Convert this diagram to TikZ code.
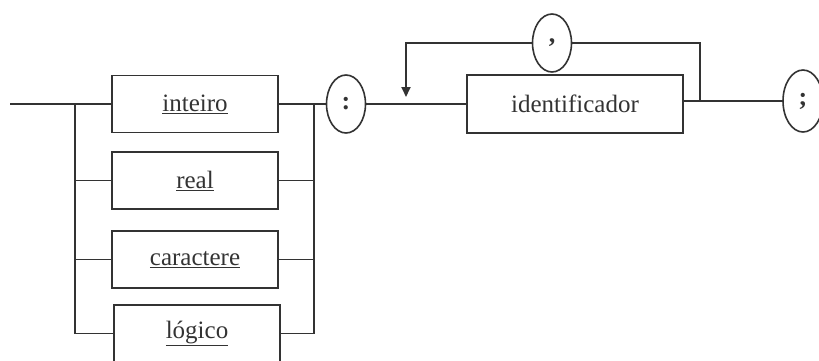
\documentclass[tikz,border=0pt]{standalone}
\usepackage{fontspec}
\setmainfont{Liberation Serif}
\usetikzlibrary{shapes.geometric,arrows.meta}
\definecolor{ink}{HTML}{333333}
\tikzset{
  wire/.style={draw=ink, line width=1.8pt},
  termbox/.style={draw=ink, line width=1.8pt, rectangle, minimum width=166pt, minimum height=57pt, inner sep=0pt,
    font=\fontsize{25}{27}\selectfont, text=ink},
  idbox/.style={termbox, minimum width=216pt, minimum height=58pt},
  token/.style={draw=ink, line width=1.6pt, ellipse, minimum width=39pt, minimum height=58pt, inner sep=0pt,
    font=\fontsize{26}{28}\bfseries\selectfont, text=ink},
}
\begin{document}
\begin{tikzpicture}[x=1pt,y=-1pt]
  \useasboundingbox (0,0) rectangle (819,360);
  % alternatives for the type
  \node[termbox] (b1) at (195,104) {\underline{inteiro}};
  \node[termbox] (b2) at (195,180.5) {\underline{real}};
  \node[termbox] (b3) at (195,259.5) {\underline{caractere}};
  \node[termbox] (b4) at (197,333.5) {\underline{lógico}};
  % separators and identifier
  \node[token] (colon) at (346,104) {:};
  \node[idbox] (id) at (575,104) {identificador};
  \node[token] (comma) at (552,43) {,};
  \node[token, minimum height=62pt, minimum width=40pt] (semi) at (803,101) {;};
  % split / join points
  \coordinate (start) at (10,104);
  \coordinate (lsplit) at (75,104);
  \coordinate (rjoin) at (314,104);
  \coordinate (rloop) at (700,101);
  \coordinate (arrowtip) at (406,97);
  % entry and branches
  \draw[wire] (start) -- (b1.west);
  \draw[wire] (lsplit) |- (b4.west);
  \draw[wire] (lsplit |- b2.west) -- (b2.west);
  \draw[wire] (lsplit |- b3.west) -- (b3.west);
  \draw[wire] (b1.east) -- (colon.west);
  \draw[wire] (b4.east) -| (rjoin);
  \draw[wire] (b2.east) -- (rjoin |- b2.east);
  \draw[wire] (b3.east) -- (rjoin |- b3.east);
  % identifier list
  \draw[wire] (colon.east) -- (colon.east -| id.west);
  \draw[wire] (semi.west -| id.east) -- (semi.west);
  \draw[wire] (rloop) |- (comma.east);
  \draw[wire, -{Triangle[length=10pt,width=9pt]}] (comma.west) -| (arrowtip);
\end{tikzpicture}
\end{document}
